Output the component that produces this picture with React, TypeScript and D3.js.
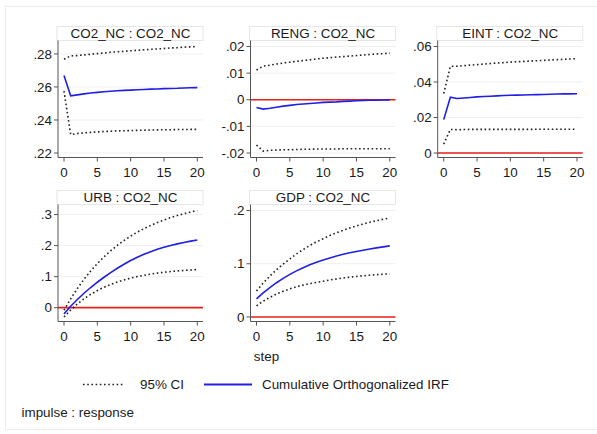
import React from "react";
import * as d3 from "d3";

const steps = d3.range(0, 21);
const xTicks = [0, 5, 10, 15, 20];

const titles = ["CO2_NC : CO2_NC", "RENG : CO2_NC", "EINT : CO2_NC", "URB : CO2_NC", "GDP : CO2_NC"];

const yTicks1 = [0.22, 0.24, 0.26, 0.28];
const yTicks2 = [-0.02, -0.01, 0, 0.01, 0.02];
const yTicks3 = [0, 0.02, 0.04, 0.06];
const yTicks4 = [0, 0.1, 0.2, 0.3];
const yTicks5 = [0, 0.1, 0.2];

const irf1 = [0.267, 0.2546, 0.2552, 0.2558, 0.2563, 0.2567, 0.2571, 0.2574, 0.2577, 0.2579, 0.2581, 0.2583, 0.2585, 0.2587, 0.2588, 0.259, 0.2591, 0.2592, 0.2594, 0.2595, 0.2596];
const up1 = [0.2768, 0.2788, 0.279, 0.2794, 0.2798, 0.2802, 0.2806, 0.281, 0.2813, 0.2816, 0.2819, 0.2822, 0.2825, 0.2828, 0.283, 0.2833, 0.2836, 0.2838, 0.2841, 0.2843, 0.2845];
const lo1 = [0.2575, 0.2312, 0.2318, 0.2322, 0.2325, 0.2328, 0.233, 0.2332, 0.2334, 0.2335, 0.2336, 0.2337, 0.2338, 0.2339, 0.234, 0.2341, 0.2341, 0.2342, 0.2342, 0.2343, 0.2343];

const irf2 = [-0.0029, -0.0035, -0.0032, -0.0028, -0.0024, -0.0021, -0.0018, -0.0016, -0.0014, -0.0012, -0.001, -0.0009, -0.0008, -0.0006, -0.0005, -0.0004, -0.0003, -0.0002, -0.0002, -0.0001, -0.0001];
const up2 = [0.0112, 0.0126, 0.013, 0.0134, 0.0138, 0.0141, 0.0144, 0.0147, 0.015, 0.0153, 0.0156, 0.0158, 0.016, 0.0162, 0.0164, 0.0166, 0.0168, 0.017, 0.0172, 0.0173, 0.0175];
const lo2 = [-0.017, -0.0193, -0.019, -0.0189, -0.0188, -0.0188, -0.0187, -0.0186, -0.0186, -0.0185, -0.0185, -0.0185, -0.0185, -0.0184, -0.0184, -0.0184, -0.0184, -0.0184, -0.0184, -0.0184, -0.0184];

const irf3 = [0.0188, 0.0314, 0.0307, 0.031, 0.0313, 0.0316, 0.0318, 0.032, 0.0322, 0.0324, 0.0325, 0.0326, 0.0327, 0.0328, 0.0329, 0.033, 0.0331, 0.0332, 0.0333, 0.0333, 0.0334];
const up3 = [0.0335, 0.0488, 0.0489, 0.0492, 0.0495, 0.0498, 0.0501, 0.0504, 0.0507, 0.0509, 0.0512, 0.0514, 0.0516, 0.0518, 0.052, 0.0522, 0.0524, 0.0526, 0.0528, 0.053, 0.0532];
const lo3 = [0.005, 0.0133, 0.0131, 0.0132, 0.0133, 0.0133, 0.0133, 0.0133, 0.0133, 0.0133, 0.0133, 0.0133, 0.0133, 0.0133, 0.0134, 0.0134, 0.0134, 0.0134, 0.0134, 0.0134, 0.0134];

const irf4 = [-0.02, 0.0045, 0.0265, 0.0465, 0.065, 0.082, 0.098, 0.113, 0.127, 0.14, 0.152, 0.1625, 0.172, 0.1805, 0.188, 0.1945, 0.2004, 0.2056, 0.2103, 0.2144, 0.218];
const up4 = [-0.008, 0.0286, 0.0618, 0.0915, 0.1182, 0.1422, 0.1638, 0.1832, 0.2007, 0.2164, 0.2306, 0.2433, 0.2547, 0.265, 0.2743, 0.2826, 0.2901, 0.2968, 0.3028, 0.3082, 0.3131];
const lo4 = [-0.03, -0.0075, 0.0119, 0.0286, 0.0429, 0.0552, 0.0658, 0.0749, 0.0827, 0.0894, 0.0952, 0.1002, 0.1045, 0.1082, 0.1114, 0.1141, 0.1164, 0.1184, 0.1201, 0.1216, 0.1229];

const irf5 = [0.034, 0.0452, 0.0553, 0.0644, 0.0726, 0.08, 0.0866, 0.0926, 0.098, 0.1028, 0.1071, 0.111, 0.1145, 0.1177, 0.1205, 0.1231, 0.1255, 0.1277, 0.1298, 0.1317, 0.1335];
const up5 = [0.049, 0.0637, 0.0769, 0.0888, 0.0995, 0.1091, 0.1184, 0.1267, 0.1342, 0.141, 0.1471, 0.1529, 0.1581, 0.1629, 0.1672, 0.1711, 0.1746, 0.1778, 0.1808, 0.1835, 0.186];
const lo5 = [0.021, 0.0296, 0.0369, 0.0431, 0.0484, 0.0529, 0.0567, 0.0599, 0.0627, 0.0651, 0.0671, 0.0695, 0.0715, 0.0733, 0.0749, 0.0762, 0.0774, 0.0785, 0.0795, 0.0804, 0.0812];

const panels = [
  { title: titles[0], ticks: yTicks1, irf: irf1, up: up1, lo: lo1, col: 0, row: 0 },
  { title: titles[1], ticks: yTicks2, irf: irf2, up: up2, lo: lo2, col: 1, row: 0 },
  { title: titles[2], ticks: yTicks3, irf: irf3, up: up3, lo: lo3, col: 2, row: 0 },
  { title: titles[3], ticks: yTicks4, irf: irf4, up: up4, lo: lo4, col: 0, row: 1 },
  { title: titles[4], ticks: yTicks5, irf: irf5, up: up5, lo: lo5, col: 1, row: 1 },
];

const FONT = "'Liberation Sans', Arial, sans-serif";
const FS = 13.4;
const colX = [58, 250.5, 437.7];
const rowTop = [27, 191];
const PW = 145;
const TEXT = "#1a1a1a";
const BLUE = "#1f1fe6";
const RED = "#e8201c";
const DOT = "#222";

function fmt(v: number): string {
  if (v === 0) return "0";
  const s = String(Math.round(v * 1000) / 1000);
  return s.replace(/^0\./, ".").replace(/^-0\./, "-.");
}

function Panel({ p }: { p: typeof panels[number] }) {
  const ax = colX[p.col];
  const top = rowTop[p.row];
  const plotTop = top + 13.5;
  const axisY = top + 130.5;
  const x = d3.scaleLinear().domain([0, 20]).range([ax + 6, ax + 139.3]);
  const all = [...p.irf, ...p.up, ...p.lo, ...p.ticks];
  const y = d3.scaleLinear().domain([d3.min(all)!, d3.max(all)!]).range([axisY - 4.5, plotTop + 6]);
  const line = d3.line<number>().x((_, i) => x(steps[i])).y((v) => y(v));
  const showZero = y.domain()[0] <= 0 && y.domain()[1] >= 0;
  return (
    <g>
      <rect x={ax - 1} y={top - 0.5} width={PW + 1} height={14} fill="#fff" stroke="#e6e6e6" strokeWidth={1} />
      <text x={ax + PW / 2} y={top + 10.8} textAnchor="middle" fontSize={FS} fontFamily={FONT} fill={TEXT}>{p.title}</text>
      {p.ticks.map((t) => (
        <line key={"g" + t} x1={ax} x2={ax + PW} y1={y(t)} y2={y(t)} stroke="#efefef" strokeWidth={1} />
      ))}
      {showZero && <line x1={ax} x2={ax + PW} y1={y(0)} y2={y(0)} stroke={RED} strokeWidth={1.7} />}
      <path d={line(p.up)!} fill="none" stroke={DOT} strokeWidth={1.6} strokeDasharray="1.6 2.6" />
      <path d={line(p.lo)!} fill="none" stroke={DOT} strokeWidth={1.6} strokeDasharray="1.6 2.6" />
      <path d={line(p.irf)!} fill="none" stroke={BLUE} strokeWidth={1.6} />
      <line x1={ax} x2={ax} y1={plotTop} y2={axisY} stroke="#555" strokeWidth={1} />
      <line x1={ax} x2={ax + PW} y1={axisY} y2={axisY} stroke="#555" strokeWidth={1} />
      {p.ticks.map((t) => (
        <g key={"t" + t}>
          <line x1={ax - 4} x2={ax} y1={y(t)} y2={y(t)} stroke="#555" strokeWidth={1} />
          <text x={ax - 6} y={y(t) + 4.7} textAnchor="end" fontSize={FS} fontFamily={FONT} fill={TEXT}>{fmt(t)}</text>
        </g>
      ))}
      {xTicks.map((t) => (
        <g key={"x" + t}>
          <line x1={x(t)} x2={x(t)} y1={axisY} y2={axisY + 4} stroke="#555" strokeWidth={1} />
          <text x={x(t)} y={axisY + 19.5} textAnchor="middle" fontSize={FS} fontFamily={FONT} fill={TEXT}>{t}</text>
        </g>
      ))}
    </g>
  );
}

export default function App() {
  return (
    <svg width={597} height={434} style={{ position: "absolute", left: 0, top: 0, background: "#fff" }}>
      <rect x={0} y={0} width={597} height={434} fill="#fff" />
      <rect x={5.5} y={6.5} width={600} height={423} fill="#fff" stroke="#ececec" strokeWidth={1} />
      {panels.map((p) => <Panel key={p.title} p={p} />)}
      <text x={266.5} y={360.5} textAnchor="middle" fontSize={FS} fontFamily={FONT} fill={TEXT}>step</text>
      <line x1={83} x2={125} y1={384.5} y2={384.5} stroke={DOT} strokeWidth={1.6} strokeDasharray="1.6 2.6" />
      <text x={140} y={389} fontSize={FS} fontFamily={FONT} fill={TEXT}>95% CI</text>
      <line x1={204} x2={252} y1={384.5} y2={384.5} stroke={BLUE} strokeWidth={1.8} />
      <text x={262} y={389} fontSize={FS} fontFamily={FONT} fill={TEXT}>Cumulative Orthogonalized IRF</text>
      <text x={21.5} y={416.5} fontSize={FS} fontFamily={FONT} fill={TEXT}>impulse : response</text>
    </svg>
  );
}
